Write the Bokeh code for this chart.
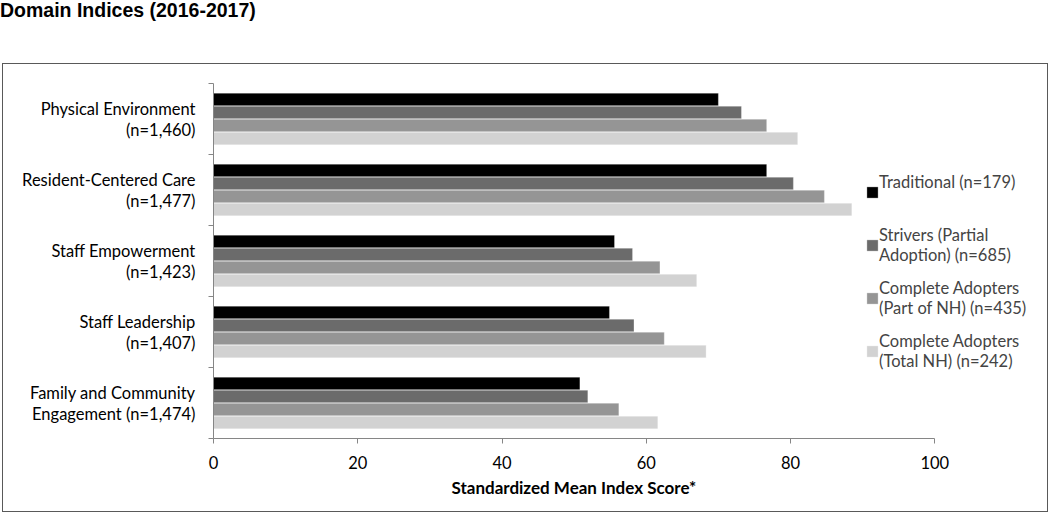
from bokeh.plotting import figure
from bokeh.models import (Range1d, FixedTicker, Legend, LegendItem, Div, ColumnDataSource, Title)
from bokeh.layouts import column
from bokeh.transform import dodge
from bokeh.embed import file_html
from bokeh.resources import INLINE

# ---- data ----
domains = ["Physical Environment", "Resident-Centered Care", "Staff Empowerment",
           "Staff Leadership", "Family and Community Engagement"]
domain_labels = ["Physical Environment\n(n=1,460)", "Resident-Centered Care\n(n=1,477)",
                 "Staff Empowerment\n(n=1,423)", "Staff Leadership\n(n=1,407)",
                 "Family and Community\nEngagement (n=1,474)"]
series_labels = ["Traditional (n=179)\n ", "Strivers (Partial\nAdoption) (n=685)",
                 "Complete Adopters\n(Part of NH) (n=435)",
                 "Complete Adopters\n(Total NH) (n=242)"]
traditional = [70.0, 76.7, 55.6, 54.9, 50.8]
strivers = [73.2, 80.4, 58.1, 58.3, 51.9]
part_nh = [76.7, 84.7, 61.9, 62.5, 56.2]
total_nh = [81.0, 88.5, 67.0, 68.3, 61.6]
x_ticks = [0, 20, 40, 60, 80, 100]
title_text = "Domain Indices (2016-2017)"
x_title = "Standardized Mean Index Score*"

# ---- styles ----
colors = ["#000000", "#6b6b6b", "#959595", "#d2d2d2"]
offsets = [0.275, 0.0917, -0.0917, -0.275]
FONT = "Lato"
AXIS_COLOR = "#868686"
X_VIEW_END = 114.8   # frame extends right of 100 so the legend is not clipped

n = len(domains)
# category slots: first domain at the top
pos = [n - 1 - i + 0.5 for i in range(n)]
src = ColumnDataSource(dict(domain=domains, pos=pos, traditional=traditional,
                            strivers=strivers, part_nh=part_nh, total_nh=total_nh))
cols = ["traditional", "strivers", "part_nh", "total_nh"]

p = figure(width=1046, height=449, y_range=Range1d(0, n), x_range=Range1d(0, X_VIEW_END),
           output_backend="svg", toolbar_location=None,
           min_border_left=210, min_border_right=8,
           min_border_top=19, min_border_bottom=75)

renderers = []
for c, off, col in zip(cols, offsets, colors):
    r = p.hbar(y=dodge("pos", off), left=0, right=c, height=0.178,
               source=src, fill_color=col, line_color="white", line_alpha=0.5,
               line_width=0.6)
    renderers.append(r)

p.xgrid.visible = False
p.ygrid.visible = False
p.outline_line_color = None

xa = p.xaxis[0]
xa.bounds = (x_ticks[0], x_ticks[-1])
xa.ticker = FixedTicker(ticks=x_ticks)
xa.minor_tick_line_color = None
xa.major_tick_in = 0
xa.major_tick_out = 5
xa.axis_line_color = AXIS_COLOR
xa.major_tick_line_color = AXIS_COLOR
xa.major_label_text_font = FONT
xa.major_label_text_font_size = "16.5px"
xa.major_label_text_color = "#000000"
xa.major_label_standoff = 12

xt = Title(text=x_title, align="left", offset=238, standoff=6,
           text_font=FONT, text_font_size="17px", text_font_style="bold",
           text_color="#000000")
p.add_layout(xt, "below")

ya = p.yaxis[0]
ya.ticker = FixedTicker(ticks=pos, minor_ticks=list(range(n + 1)))
ya.major_label_overrides = {pp: lab for pp, lab in zip(pos, domain_labels)}
ya.major_tick_line_color = None
ya.major_tick_out = 0
ya.major_tick_in = 0
ya.minor_tick_in = 0
ya.minor_tick_out = 5
ya.minor_tick_line_color = AXIS_COLOR
ya.axis_line_color = AXIS_COLOR
ya.major_label_text_font = FONT
ya.major_label_text_font_size = "16.5px"
ya.major_label_text_color = "#000000"
ya.major_label_standoff = 13
ya.major_label_text_line_height = 1.05
ya.major_label_text_align = "center"

legend = Legend(items=[LegendItem(label=lab, renderers=[r]) for lab, r in zip(series_labels, renderers)],
                location=(652, 67), padding=0, margin=0, spacing=13,
                glyph_width=14, glyph_height=14, label_standoff=0,
                label_text_font=FONT, label_text_font_size="16.5px",
                label_text_line_height=1.35,
                border_line_color=None, background_fill_alpha=0)
p.add_layout(legend, "center")

p.styles = {"border": "1.5px solid #595959"}

title = Div(text=f'<div style="margin-top:-3px;margin-left:-2px;font-family:\'Liberation Sans\',Arial;'
                 f'font-weight:bold;font-size:19.5px;color:#000;white-space:nowrap">{title_text}</div>',
            width=1046, height=63, margin=(0, 0, 0, 0))
p.margin = (0, 0, 0, 0)

layout = column(title, p, spacing=0, margin=(0, 0, 0, 2))
open("out.html", "w").write(file_html(layout, INLINE))
